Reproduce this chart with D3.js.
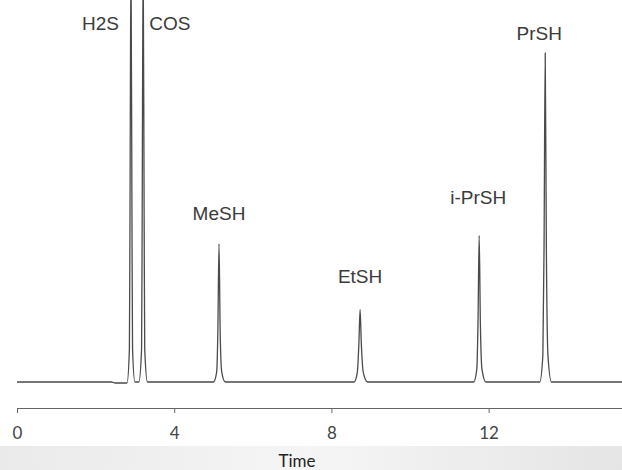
<!DOCTYPE html>
<html>
<head>
<meta charset="utf-8">
<script src="https://cdn.jsdelivr.net/npm/d3@7"></script>
<style>
  body { margin: 0; background: #fff; }
  #chart { width: 622px; height: 470px; }
</style>
</head>
<body>
<div id="chart"></div>
<script>
// Chromatogram trace: [time, signal]
var traceTimes = [0, 2.40, 2.50, 2.80, 2.86, 2.875, 2.90, 2.925, 2.94, 3.00,
    3.10, 3.17, 3.185, 3.21, 3.235, 3.25, 3.32,
    5.00, 5.08, 5.11, 5.14, 5.17, 5.21, 5.30,
    8.58, 8.66, 8.70, 8.73, 8.76, 8.81, 8.92,
    11.62, 11.70, 11.73, 11.76, 11.79, 11.83, 11.93,
    13.30, 13.38, 13.41, 13.44, 13.47, 13.51, 13.60,
    15.4];
var traceSignal = [0, 0, -0.3, -0.3, 10, 50, 130, 50, 10, 0,
    0, 10, 50, 130, 50, 10, 0,
    0, 3, 15, 42, 15, 3, 0,
    0, 3, 12, 22, 12, 3, 0,
    0, 4, 18, 44.5, 18, 4, 0,
    0, 8, 40, 100, 40, 8, 0,
    0];

// Peak names and where they elute
var peakNames = ["H2S", "COS", "MeSH", "EtSH", "i-PrSH", "PrSH"];
var peakTimes = [2.90, 3.21, 5.14, 8.73, 11.76, 13.44];

// X axis ticks
var tickValues = [0, 4, 8, 12];
var axisTitle = "Time";

// Label placement (layout only)
var labelLayout = {
    "H2S":    {dx: -12, level: 107.0, anchor: "end"},
    "COS":    {dx: 6,   level: 107.0, anchor: "start"},
    "MeSH":   {dx: 0,   level: 49.3,  anchor: "middle"},
    "EtSH":   {dx: 0,   level: 30.0,  anchor: "middle"},
    "i-PrSH": {dx: -1,  level: 54.0,  anchor: "middle"},
    "PrSH":   {dx: -6,  level: 104.0, anchor: "middle"}
};

var width = 622, height = 470;

var svg = d3.select("#chart")
    .append("svg")
    .attr("width", width)
    .attr("height", height);

// Scales
var x = d3.scaleLinear()
    .domain([0, 15.394])
    .range([17, 622]);

var y = d3.scaleLinear()
    .domain([0, 100])
    .range([382, 53]);

// Grey strip behind the axis title
var grad = svg.append("defs").append("linearGradient")
    .attr("id", "band")
    .attr("x1", "0%").attr("x2", "100%");
grad.append("stop").attr("offset", "0%").attr("stop-color", "#eaeaea");
grad.append("stop").attr("offset", "50%").attr("stop-color", "#f5f5f5");
grad.append("stop").attr("offset", "100%").attr("stop-color", "#e5e5e5");

svg.append("rect")
    .attr("x", 0)
    .attr("y", 446)
    .attr("width", width)
    .attr("height", height - 446)
    .attr("fill", "url(#band)");

// Trace
var trace = traceTimes.map(function (t, i) {
    return [t, traceSignal[i]];
});

var line = d3.line()
    .x(function (d) { return x(d[0]); })
    .y(function (d) { return y(d[1]); })
    .curve(d3.curveMonotoneX);

svg.append("path")
    .datum(trace)
    .attr("d", line)
    .attr("fill", "none")
    .attr("stroke", "#4a4a4a")
    .attr("stroke-width", 1.3);

// Peak labels
svg.selectAll("text.peak")
    .data(peakNames)
    .enter()
    .append("text")
    .attr("class", "peak")
    .attr("x", function (d, i) { return x(peakTimes[i]) + labelLayout[d].dx; })
    .attr("y", function (d) { return y(labelLayout[d].level); })
    .attr("text-anchor", function (d) { return labelLayout[d].anchor; })
    .style("font-family", "'Liberation Sans', Arial, sans-serif")
    .style("font-size", "19px")
    .style("fill", "#3a3a3a")
    .text(function (d) { return d; });

// X axis
var xAxis = svg.append("g")
    .attr("transform", "translate(0,408)")
    .call(d3.axisBottom(x)
        .tickValues(tickValues)
        .tickSize(5)
        .tickSizeOuter(0)
        .tickPadding(14)
        .tickFormat(d3.format("d")));

xAxis.select(".domain").attr("stroke", "#666").attr("stroke-width", 1.2);
xAxis.selectAll(".tick line").attr("stroke", "#666");
xAxis.selectAll(".tick text")
    .style("font-family", "Lato, 'Open Sans', sans-serif")
    .style("font-size", "17px")
    .style("fill", "#444");

// Axis title
svg.append("text")
    .attr("x", 297)
    .attr("y", 467)
    .attr("text-anchor", "middle")
    .style("font-family", "Lato, 'Open Sans', sans-serif")
    .style("font-size", "17px")
    .style("fill", "#222")
    .text(axisTitle);
</script>
</body>
</html>
